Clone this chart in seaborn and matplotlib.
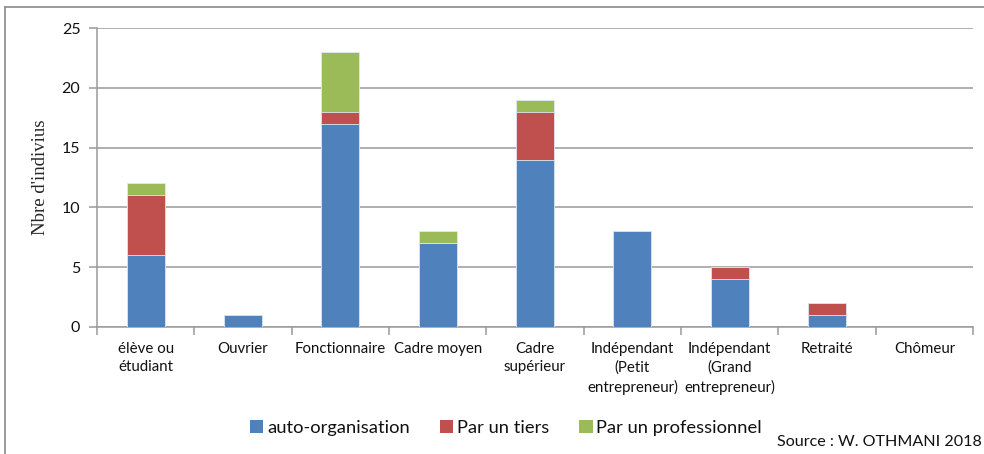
import matplotlib
matplotlib.use("Agg")
import matplotlib.pyplot as plt
from matplotlib.lines import Line2D
from matplotlib.patches import Patch
import numpy as np
import pandas as pd
import seaborn as sns

categories = [
    "élève ou\nétudiant", "Ouvrier", "Fonctionnaire", "Cadre moyen",
    "Cadre\nsupérieur", "Indépendant\n(Petit\nentrepreneur)",
    "Indépendant\n(Grand\nentrepreneur)", "Retraité", "Chômeur",
]
auto_organisation = [6, 1, 17, 7, 14, 8, 4, 1, 0]
par_un_tiers = [5, 0, 1, 0, 4, 0, 1, 1, 0]
par_un_professionnel = [1, 0, 5, 1, 1, 0, 0, 0, 0]
series_names = ["auto-organisation", "Par un tiers", "Par un professionnel"]
colors = ["#4F81BD", "#C0504D", "#9BBB59"]

sns.set_theme(style="white")
plt.rcParams["font.family"] = ["Lato", "DejaVu Sans"]
plt.rcParams["text.color"] = "#111111"
plt.rcParams["xtick.labelcolor"] = "#111111"
plt.rcParams["ytick.labelcolor"] = "#111111"

df = pd.DataFrame({
    "cat": categories,
    "auto": auto_organisation,
    "tiers": par_un_tiers,
    "pro": par_un_professionnel,
})
# cumulative heights so that stacked segments can be drawn back to front
df["top_auto"] = df["auto"]
df["top_tiers"] = df["auto"] + df["tiers"]
df["top_pro"] = df["top_tiers"] + df["pro"]

fig = plt.figure(figsize=(9.84, 4.54), dpi=100)
ax = fig.add_axes([97 / 984, 1 - 327 / 454, (973 - 97) / 984, (327 - 28) / 454])

for col, c in zip(["top_pro", "top_tiers", "top_auto"], colors[::-1]):
    sns.barplot(data=df, x="cat", y=col, color=c, width=0.39, ax=ax,
                order=categories, saturation=1, edgecolor="#dfe8f2",
                linewidth=0.6, zorder=3)

ax.set_xlim(-0.5, len(categories) - 0.5)
ax.set_ylim(0, 25)
ax.set_yticks([0, 5, 10, 15, 20, 25])
ax.yaxis.grid(True, color="#9a9a9a", linewidth=1.1, zorder=0)
ax.set_axisbelow(True)

for side in ["top", "right"]:
    ax.spines[side].set_visible(False)
for side in ["left", "bottom"]:
    ax.spines[side].set_color("#9a9a9a")
    ax.spines[side].set_linewidth(1.1)

ax.tick_params(axis="y", which="major", length=6, color="#9a9a9a", width=1.1,
               labelsize=11.5, pad=6, left=True)
ax.set_xticks(np.arange(len(categories)))
ax.set_xticklabels(categories, fontsize=10.8, linespacing=1.38)
ax.tick_params(axis="x", which="major", length=0, pad=11)
ax.set_xticks(np.arange(-0.5, len(categories)), minor=True)
ax.tick_params(axis="x", which="minor", length=6, color="#9a9a9a", width=1.1,
               bottom=True)
ax.set_xlabel("")
ax.set_ylabel("Nbre d'indivius", family=["Liberation Serif"], fontsize=13.5,
              labelpad=9)

handles = [Patch(facecolor=c, edgecolor="none") for c in colors]
fig.legend(handles, series_names, loc="center", bbox_to_anchor=(506 / 984, 1 - 428 / 454),
           ncol=3, frameon=False, fontsize=13.2, handlelength=0.72, handleheight=0.72,
           handletextpad=0.2, columnspacing=1.65)

fig.text(982 / 984, 1 - 442 / 454, "Source : W. OTHMANI 2018", ha="right",
         va="center", fontsize=11.6)

# chart frame
fig.add_artist(Line2D([5 / 984, 5 / 984], [0, 1 - 7 / 454], transform=fig.transFigure,
                      color="#8a8a8a", linewidth=1.2))
fig.add_artist(Line2D([5 / 984, 1], [1 - 7 / 454, 1 - 7 / 454], transform=fig.transFigure,
                      color="#8a8a8a", linewidth=1.2))

fig.savefig("out.png", dpi=100)
